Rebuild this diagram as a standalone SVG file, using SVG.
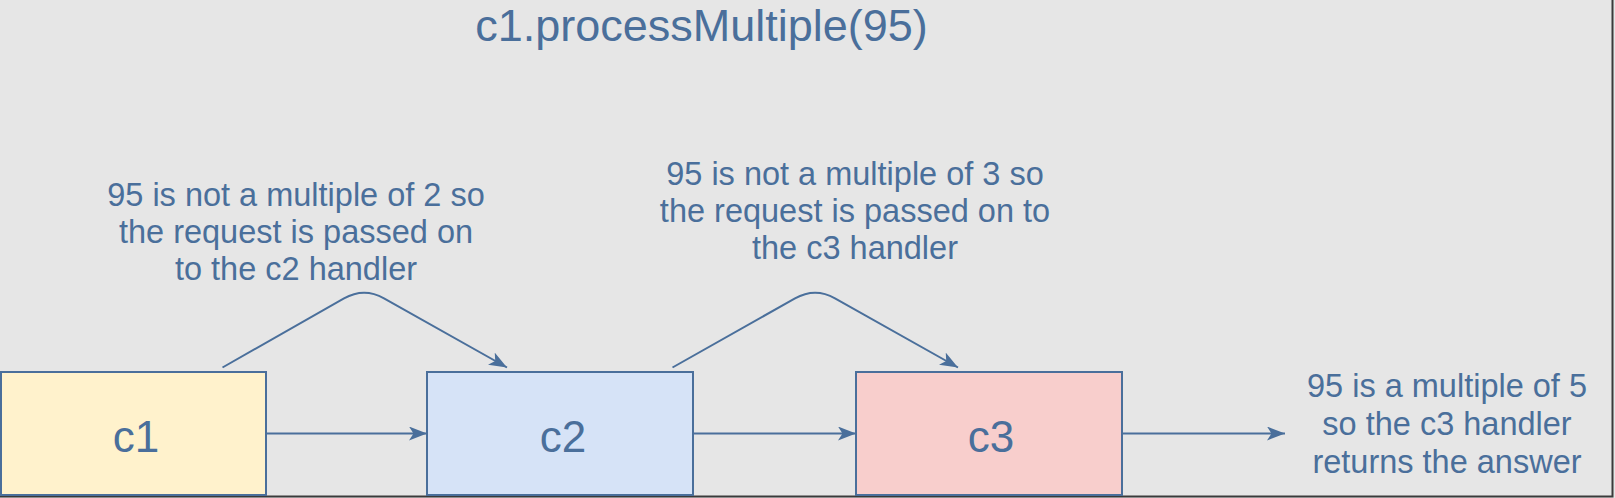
<svg xmlns="http://www.w3.org/2000/svg" width="1615" height="498" viewBox="0 0 1615 498">
  <style>
    .box { stroke: #4a6f9b; stroke-width: 2; }
    .lbl { font-family: "Liberation Sans", Arial, sans-serif; fill: #4a6f9b; text-anchor: middle; }
    .big { font-size: 44px; }
    .title { font-size: 45px; }
    .note { font-size: 32.5px; }
    .conn { fill: none; stroke: #4a6f9b; stroke-width: 2; marker-end: url(#arr); }
  </style>
  <defs>
    <marker id="arr" viewBox="0 0 18 14" refX="18" refY="7" markerWidth="18" markerHeight="14" orient="auto" markerUnits="userSpaceOnUse">
      <path d="M0,0 L18,7 L0,14 L4.5,7 Z" fill="#4a6f9b"/>
    </marker>
  </defs>
  <rect x="0" y="0" width="1615" height="498" fill="#e6e6e6"/>
  <path d="M0,496.5 H1612.5 V0" fill="none" stroke="#3a3a3a" stroke-width="2"/>

  <g id="title">
    <text class="lbl title" x="701.5" y="41">c1.processMultiple(95)</text>
  </g>

  <g id="connectors">
    <path class="conn" d="M266,433.5 H427"/>
    <path class="conn" d="M693,433.5 H856"/>
    <path class="conn" d="M1122,433.5 H1285"/>
    <path class="conn" d="M222.5,367.5 L344,298.4 Q364,287 384,298.3 L507,367.5"/>
    <path class="conn" d="M672.5,367.5 L795,298.4 Q815,287 835,298.3 L958,367.5"/>
  </g>

  <g id="c1">
    <rect class="box" x="1" y="372" width="265" height="123" fill="#fff2cc"/>
    <text class="lbl big" x="136" y="452">c1</text>
  </g>
  <g id="c2">
    <rect class="box" x="427" y="372" width="266" height="123" fill="#d6e3f7"/>
    <text class="lbl big" x="563" y="452">c2</text>
  </g>
  <g id="c3">
    <rect class="box" x="856" y="372" width="266" height="123" fill="#f8cecc"/>
    <text class="lbl big" x="991" y="452">c3</text>
  </g>

  <g id="note1">
    <text class="lbl note" x="296" y="205.5">95 is not a multiple of 2 so</text>
    <text class="lbl note" x="296" y="242.5">the request is passed on</text>
    <text class="lbl note" x="296" y="279.5">to the c2 handler</text>
  </g>
  <g id="note2">
    <text class="lbl note" x="855" y="185">95 is not a multiple of 3 so</text>
    <text class="lbl note" x="855" y="222">the request is passed on to</text>
    <text class="lbl note" x="855" y="259">the c3 handler</text>
  </g>
  <g id="note3">
    <text class="lbl note" x="1447" y="397">95 is a multiple of 5</text>
    <text class="lbl note" x="1447" y="435">so the c3 handler</text>
    <text class="lbl note" x="1447" y="473">returns the answer</text>
  </g>
</svg>
